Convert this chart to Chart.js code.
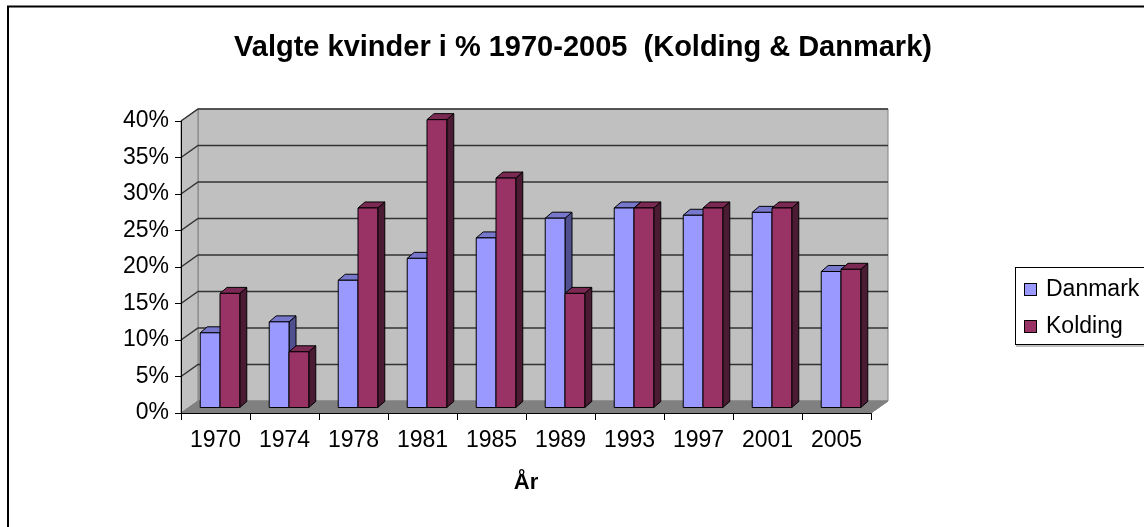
<!DOCTYPE html>
<html>
<head>
<meta charset="utf-8">
<script src="https://cdn.jsdelivr.net/npm/chart.js@4/dist/chart.umd.min.js"></script>
<style>
body { margin: 0; background: #ffffff; }
canvas { display: block; }
</style>
</head>
<body>
<canvas id="kvinderChart" width="1144" height="527"></canvas>
<script>

const years = ['1970', '1974', '1978', '1981', '1985', '1989', '1993', '1997', '2001', '2005'];
const danmark = [10.3, 11.8, 17.5, 20.5, 23.3, 26.0, 27.4, 26.4, 26.8, 18.7];
const kolding = [15.7, 7.7, 27.4, 39.5, 31.5, 15.7, 27.4, 27.4, 27.4, 19.0];
const seriesNames = ['Danmark', 'Kolding'];

const titleText = 'Valgte kvinder i % 1970-2005  (Kolding & Danmark)';
const fontName = "'Liberation Sans', Arial, sans-serif";

// excel-ish 3d look
const wallDx = 17, wallDy = -12;
const barDx = 4.5, barDy = -5;
const depthDx = 7, depthDy = -6;

const faceColors = ['#9999ff', '#993366'];
const topColors = ['#7777cc', '#7a2952'];
const sideColors = ['#505090', '#4b1a33'];


function poly(ctx, pts, fill, stroke)
{
    ctx.beginPath();
    ctx.moveTo(pts[0][0], pts[0][1]);
    for (let i = 1; i < pts.length; i++) ctx.lineTo(pts[i][0], pts[i][1]);
    ctx.closePath();
    if (fill) { ctx.fillStyle = fill; ctx.fill(); }
    if (stroke) { ctx.strokeStyle = stroke; ctx.stroke(); }
}


const walls = {
    id: 'walls',
    beforeDraw(chart)
    {
        const ctx = chart.ctx;
        const a = chart.chartArea;
        const yScale = chart.scales.y;
        const L = a.left, R = a.right, T = a.top, B = a.bottom;

        ctx.save();
        ctx.lineWidth = 1;

        // back wall, side wall, floor
        poly(ctx, [[L + wallDx, T + wallDy], [R + wallDx, T + wallDy], [R + wallDx, B + wallDy], [L + wallDx, B + wallDy]], '#c0c0c0', '#808080');
        poly(ctx, [[L, T], [L + wallDx, T + wallDy], [L + wallDx, B + wallDy], [L, B]], '#c0c0c0', '#808080');
        poly(ctx, [[L, B], [L + wallDx, B + wallDy], [R + wallDx, B + wallDy], [R, B]], '#808080', '#808080');

        // gridlines
        ctx.strokeStyle = '#333333';
        ctx.lineWidth = 1.5;
        yScale.ticks.forEach(function(t)
        {
            if (t.value === 0) return;
            const y = yScale.getPixelForValue(t.value);
            ctx.beginPath();
            ctx.moveTo(L, y);
            ctx.lineTo(L + wallDx, y + wallDy);
            ctx.lineTo(R + wallDx, y + wallDy);
            ctx.stroke();
        });

        ctx.restore();
    }
};


const bars3d = {
    id: 'bars3d',
    beforeDatasetsDraw(chart)
    {
        const ctx = chart.ctx;
        const metas = [chart.getDatasetMeta(0), chart.getDatasetMeta(1)];

        ctx.save();
        ctx.lineWidth = 1;
        ctx.lineJoin = 'round';

        for (let i = 0; i < years.length; i++)
        {
            for (let d = 0; d < metas.length; d++)
            {
                const el = metas[d].data[i];
                const l = el.x - el.width / 2 + barDx;
                const r = el.x + el.width / 2 + barDx;
                const t = el.y + barDy;
                const b = el.base + barDy;

                poly(ctx, [[r, t], [r + depthDx, t + depthDy], [r + depthDx, b + depthDy], [r, b]], sideColors[d], '#000000');
                poly(ctx, [[l, t], [l + depthDx, t + depthDy], [r + depthDx, t + depthDy], [r, t]], topColors[d], '#000000');
                poly(ctx, [[l, t], [r, t], [r, b], [l, b]], faceColors[d], '#000000');
            }
        }

        ctx.restore();
        return false;
    }
};


const extras = {
    id: 'extras',
    afterDraw(chart)
    {
        const ctx = chart.ctx;
        const a = chart.chartArea;
        ctx.save();

        // right end of the floor
        ctx.strokeStyle = '#808080';
        ctx.lineWidth = 1;
        ctx.beginPath();
        ctx.moveTo(a.right, a.bottom);
        ctx.lineTo(a.right + wallDx, a.bottom + wallDy);
        ctx.stroke();

        // outer frame
        ctx.strokeStyle = '#000000';
        ctx.lineWidth = 2;
        ctx.strokeRect(8, 6.5, 1300, 700);

        // title
        ctx.fillStyle = '#000000';
        ctx.font = 'bold 29px ' + fontName;
        ctx.textAlign = 'center';
        ctx.textBaseline = 'alphabetic';
        ctx.fillText(titleText, 583, 56);

        // legend
        ctx.lineWidth = 1;
        ctx.fillStyle = '#ffffff';
        ctx.fillRect(1015.5, 267.5, 200, 77);
        ctx.strokeStyle = '#000000';
        ctx.strokeRect(1015.5, 267.5, 200, 77);
        ctx.strokeStyle = '#808080';
        ctx.beginPath();
        ctx.moveTo(1016, 346);
        ctx.lineTo(1144, 346);
        ctx.stroke();

        ctx.font = '23px ' + fontName;
        ctx.textAlign = 'left';
        chart.data.datasets.forEach(function(ds, d)
        {
            const base = 296 + d * 37;
            ctx.fillStyle = ds.backgroundColor;
            ctx.fillRect(1024.5, base - 12.5, 12, 12);
            ctx.strokeStyle = '#000000';
            ctx.strokeRect(1024.5, base - 12.5, 12, 12);
            ctx.fillStyle = '#000000';
            ctx.fillText(ds.label, 1046, base);
        });

        ctx.restore();
    }
};


const context = document.getElementById('kvinderChart');

const data =
{
    labels: years,
    datasets:
    [{
        label: seriesNames[0],
        data: danmark,
        backgroundColor: faceColors[0],
        borderColor: '#000000',
        borderWidth: 1,
    },
    {
        label: seriesNames[1],
        data: kolding,
        backgroundColor: faceColors[1],
        borderColor: '#000000',
        borderWidth: 1,
    }]
};

const config =
{
    type: 'bar',
    data: data,
    plugins: [walls, bars3d, extras],
    options:
    {
        responsive: false,
        animation: false,
        devicePixelRatio: 1,
        datasets: { bar: { categoryPercentage: 0.573, barPercentage: 1.0 } },
        layout: { padding: { left: 0, right: 273, top: 121, bottom: 0 } },
        plugins:
        {
            legend: { display: false },
            title: { display: false },
            tooltip: { enabled: false },
        },
        scales:
        {
            x:
            {
                grid: { offset: true, drawOnChartArea: false, tickLength: 7, color: '#000000' },
                border: { color: '#000000', width: 1 },
                ticks: { color: '#000000', font: { family: fontName, size: 23 }, padding: 7, maxRotation: 0, autoSkip: false },
                title: { display: true, text: 'År', color: '#000000', font: { family: fontName, size: 22, weight: 'bold' }, padding: { top: 0, bottom: 31 } },
                afterFit: function(scale) { scale.height = 114; }
            },
            y:
            {
                min: 0,
                max: 40,
                grid: { drawOnChartArea: false, tickLength: 6, color: '#000000' },
                border: { color: '#000000', width: 1 },
                ticks:
                {
                    stepSize: 5,
                    color: '#000000',
                    font: { family: fontName, size: 23 },
                    padding: 6,
                    callback: function(v) { return v + '%'; }
                },
                afterFit: function(scale) { scale.width = 181; }
            }
        }
    },
};

var kvinderChart = new Chart(context, config);

</script>
</body>
</html>
